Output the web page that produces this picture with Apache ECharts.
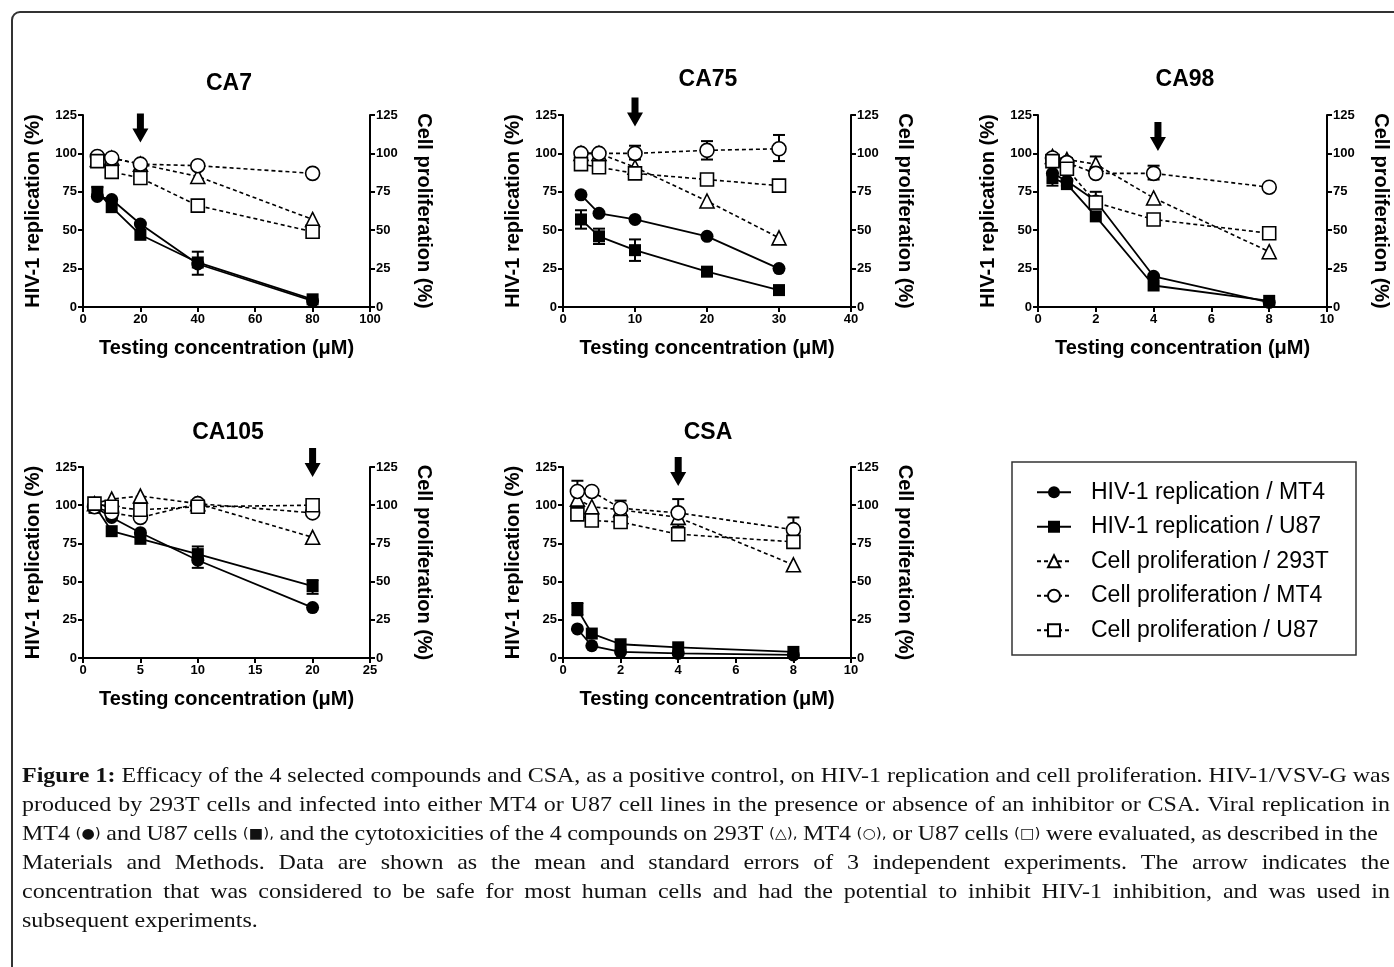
<!DOCTYPE html>
<html>
<head>
<meta charset="utf-8">
<title>Figure 1</title>
<script src="https://cdn.jsdelivr.net/npm/echarts@6/dist/echarts.min.js"></script>
<style>
  html, body { margin: 0; padding: 0; background: #fff; }
  #chart { width: 1394px; height: 967px; }
</style>
</head>
<body>
<div id="chart"></div>
<script>
// ---- data (% of control) ----
const concCA7 = [5, 10, 20, 40, 80]
const ca7Mt4 = [72, 70, 54, 28, 4]
const ca7U87 = [75, 65, 47, 29, 5]
const ca7Cp293 = [96, 97, 93, 85, 57]
const ca7CpMt4 = [98, 97, 93, 92, 87]
const ca7CpU87 = [95, 88, 84, 66, 49]
const ca7Err = [[5, 72, 78], [40, 21, 36]]

const concCA75 = [2.5, 5, 10, 20, 30]
const ca75Mt4 = [73, 61, 57, 46, 25]
const ca75U87 = [57, 46, 37, 23, 11]
const ca75Cp293 = [100, 100, 91, 69, 45]
const ca75CpMt4 = [100, 100, 100, 102, 103]
const ca75CpU87 = [93, 91, 87, 83, 79]
const ca75Err = [[2.5, 51, 63], [5, 41, 51], [10, 30, 44], [10, 96, 105], [20, 96, 108], [30, 95, 112]]

const concCA98 = [0.5, 1, 2, 4, 8]
const ca98Mt4 = [87, 82, 69, 20, 3]
const ca98U87 = [84, 80, 59, 14, 4]
const ca98Cp293 = [98, 96, 93, 71, 36]
const ca98CpMt4 = [97, 94, 87, 87, 78]
const ca98CpU87 = [95, 90, 68, 57, 48]
const ca98Err = [[0.5, 79, 92], [1, 79, 97], [2, 64, 75], [2, 91, 98], [4, 83, 92]]

const concCA105 = [1, 2.5, 5, 10, 20]
const ca105Mt4 = [99, 92, 82, 64, 33]
const ca105U87 = [100, 83, 78, 68, 47]
const ca105Cp293 = [101, 104, 106, 101, 79]
const ca105CpMt4 = [99, 95, 92, 101, 95]
const ca105CpU87 = [101, 99, 97, 99, 100]
const ca105Err = [[1, 95, 103], [10, 59, 73], [20, 42, 51]]

const concCSA = [0.5, 1, 2, 4, 8]
const csaMt4 = [19, 8, 4, 3, 2]
const csaU87 = [32, 16, 9, 7, 4]
const csaCp293 = [104, 99, 97, 92, 61]
const csaCpMt4 = [109, 109, 98, 95, 84]
const csaCpU87 = [94, 90, 89, 81, 76]
const csaErr = [[0.5, 28, 36], [0.5, 101, 116], [2, 93, 103], [4, 86, 104], [8, 77, 92], [8, 72, 79]]

// concentration picked as safe (arrow)
const arrowConc = [20, 10, 4.15, 20, 4]

const panelTitles = ['CA7', 'CA75', 'CA98', 'CA105', 'CSA']
const xMaxes = [100, 40, 10, 25, 10]
const xSteps = [20, 10, 2, 5, 2]

const seriesNames = [
  'HIV-1 replication / MT4',
  'HIV-1 replication / U87',
  'Cell proliferation / 293T',
  'Cell proliferation / MT4',
  'Cell proliferation / U87'
]

const captionLines = [
  'Figure 1: Efficacy of the 4 selected compounds and CSA, as a positive control, on HIV-1 replication and cell proliferation. HIV-1/VSV-G was',
  'produced by 293T cells and infected into either MT4 or U87 cell lines in the presence or absence of an inhibitor or CSA. Viral replication in',
  'MT4 (●) and U87 cells (■), and the cytotoxicities of the 4 compounds on 293T (△),  MT4 (○), or U87 cells (□) were evaluated, as described in the',
  'Materials and Methods. Data are shown as the mean and standard errors of 3 independent experiments. The arrow indicates the',
  'concentration that was considered to be safe for most human cells and had the potential to inhibit HIV-1 inhibition, and was used in',
  'subsequent experiments.'
]

// ---- layout ----
const panels = [
  { conc: concCA7, vals: [ca7Mt4, ca7U87, ca7Cp293, ca7CpMt4, ca7CpU87], err: ca7Err,
    grid: { left: 83, top: 115, width: 287, height: 192 }, titleXY: [229, 84], arrowY: 116.5 },
  { conc: concCA75, vals: [ca75Mt4, ca75U87, ca75Cp293, ca75CpMt4, ca75CpU87], err: ca75Err,
    grid: { left: 563, top: 115, width: 288, height: 192 }, titleXY: [708, 80], arrowY: 127 },
  { conc: concCA98, vals: [ca98Mt4, ca98U87, ca98Cp293, ca98CpMt4, ca98CpU87], err: ca98Err,
    grid: { left: 1038, top: 115, width: 289, height: 192 }, titleXY: [1185, 80], arrowY: 111 },
  { conc: concCA105, vals: [ca105Mt4, ca105U87, ca105Cp293, ca105CpMt4, ca105CpU87], err: ca105Err,
    grid: { left: 83, top: 467, width: 287, height: 191 }, titleXY: [228, 433], arrowY: 128 },
  { conc: concCSA, vals: [csaMt4, csaU87, csaCp293, csaCpMt4, csaCpU87], err: csaErr,
    grid: { left: 563, top: 467, width: 288, height: 191 }, titleXY: [708, 433], arrowY: 122 }
]

const SANS = '"Liberation Sans", Arial, sans-serif'
const SERIF = '"Liberation Serif", "Times New Roman", serif'

const seriesLook = [
  { symbol: 'circle', symbolSize: 13, fill: '#000', dashed: false },
  { symbol: 'rect', symbolSize: 12, fill: '#000', dashed: false },
  { symbol: 'triangle', symbolSize: 14, fill: '#fff', dashed: true },
  { symbol: 'circle', symbolSize: 14, fill: '#fff', dashed: true },
  { symbol: 'rect', symbolSize: 13, fill: '#fff', dashed: true }
]

const arrowPath = 'path://M4.5,0 L11.5,0 L11.5,15 L16,15 L8,29 L0,15 L4.5,15 Z'

function renderErr(params, api) {
  const x = api.value(0)
  const top = api.coord([x, api.value(2)])
  const bot = api.coord([x, api.value(1)])
  const w = 6
  const st = { stroke: '#000', lineWidth: 2 }
  return {
    type: 'group',
    children: [
      { type: 'line', shape: { x1: top[0], y1: top[1], x2: bot[0], y2: bot[1] }, style: st },
      { type: 'line', shape: { x1: top[0] - w, y1: top[1], x2: top[0] + w, y2: top[1] }, style: st },
      { type: 'line', shape: { x1: bot[0] - w, y1: bot[1], x2: bot[0] + w, y2: bot[1] }, style: st }
    ]
  }
}

const axisLineStyle = { show: true, lineStyle: { color: '#000', width: 2 } }
const tickStyle = { show: true, length: 5, lineStyle: { color: '#000', width: 2 } }
const labelStyle = { color: '#000', fontFamily: SANS, fontWeight: 'bold', fontSize: 13 }
const nameStyle = { color: '#000', fontFamily: SANS, fontWeight: 'bold', fontSize: 20 }

const grids = []
const xAxes = []
const yAxes = []
const series = []
const graphics = []

panels.forEach((p, i) => {
  grids.push(Object.assign({ containLabel: false }, p.grid))
  xAxes.push({
    type: 'value', gridIndex: i, min: 0, max: xMaxes[i], interval: xSteps[i],
    name: 'Testing concentration (μM)', nameLocation: 'middle', nameGap: 31,
    nameTextStyle: nameStyle,
    axisLine: Object.assign({ onZero: false }, axisLineStyle), axisTick: tickStyle,
    axisLabel: Object.assign({ margin: 6 }, labelStyle), splitLine: { show: false }
  })
  yAxes.push({
    type: 'value', gridIndex: i, position: 'left', min: 0, max: 125, interval: 25,
    name: 'HIV-1 replication (%)', nameLocation: 'middle', nameGap: 40, nameRotate: 90,
    nameTextStyle: nameStyle,
    axisLine: axisLineStyle, axisTick: tickStyle,
    axisLabel: Object.assign({ margin: 6 }, labelStyle), splitLine: { show: false }
  })
  yAxes.push({
    type: 'value', gridIndex: i, position: 'right', min: 0, max: 125, interval: 25,
    name: 'Cell proliferation (%)', nameLocation: 'middle', nameGap: 44, nameRotate: -90,
    nameTextStyle: nameStyle,
    axisLine: axisLineStyle, axisTick: tickStyle,
    axisLabel: Object.assign({ margin: 6 }, labelStyle), splitLine: { show: false }
  })

  series.push({
    type: 'custom', xAxisIndex: i, yAxisIndex: i * 2, z: 1,
    renderItem: renderErr, encode: { x: 0, y: [1, 2] }, data: p.err, silent: true
  })

  // arrow sits above the axis top for some panels: anchor at <=125 and shift in pixels
  const pxPerUnit = p.grid.height / 125
  const arrowAnchor = Math.min(p.arrowY, 125)
  const arrowShift = -(p.arrowY - arrowAnchor) * pxPerUnit

  p.vals.forEach((vals, k) => {
    const look = seriesLook[k]
    const s = {
      name: seriesNames[k], type: 'line', xAxisIndex: i,
      yAxisIndex: k < 2 ? i * 2 : i * 2 + 1, z: 3,
      symbol: look.symbol, symbolSize: look.symbolSize, showAllSymbol: true,
      itemStyle: { color: look.fill, borderColor: '#000', borderWidth: look.fill === '#fff' ? 1.6 : 0 },
      lineStyle: { color: '#000', width: look.dashed ? 1.6 : 1.8, type: look.dashed ? [4, 3] : 'solid' },
      emphasis: { disabled: true },
      data: p.conc.map((c, j) => [c, vals[j]])
    }
    if (k === 0) {
      s.markPoint = {
        symbol: arrowPath, symbolSize: [16, 29], symbolKeepAspect: false,
        symbolOffset: [0, arrowShift],
        itemStyle: { color: '#000', borderWidth: 0 }, label: { show: false },
        data: [{ coord: [arrowConc[i], arrowAnchor] }]
      }
    }
    series.push(s)
  })

  graphics.push({
    type: 'text', x: p.titleXY[0], y: p.titleXY[1], silent: true,
    style: { text: panelTitles[i], fill: '#000', fontFamily: SANS, fontWeight: 'bold', fontSize: 23, align: 'center', verticalAlign: 'middle' }
  })
})

// outer frame and legend box
graphics.push({ type: 'rect', shape: { x: 12, y: 12, width: 1420, height: 1000, r: 8 }, style: { fill: 'none', stroke: '#333', lineWidth: 2 }, silent: true })
graphics.push({ type: 'rect', shape: { x: 1012, y: 462, width: 344, height: 193 }, style: { fill: 'none', stroke: '#333', lineWidth: 1.5 }, silent: true })

// caption, justified line by line (right edge per line; null = natural spacing)
function captionGraphics() {
  const ctx = document.createElement('canvas').getContext('2d')
  const left = 22, sx = 1.09, fs = 22
  const rightEdge = [1390, 1390, 1378, 1390, 1390, null]
  const out = []
  captionLines.forEach((line, li) => {
    const words = line.split(' ').filter(w => w)
    const fonts = words.map((w, wi) => {
      if (li === 0 && wi < 2) return { fontFamily: SERIF, fontWeight: 'bold', fontSize: fs }
      if (/[●■△○□]/.test(w)) return { fontFamily: '"DejaVu Sans", sans-serif', fontWeight: 'normal', fontSize: 14 }
      return { fontFamily: SERIF, fontWeight: 'normal', fontSize: fs }
    })
    const widths = words.map((w, wi) => {
      const f = fonts[wi]
      ctx.font = f.fontWeight + ' ' + f.fontSize + 'px ' + f.fontFamily
      return ctx.measureText(w).width * sx
    })
    ctx.font = 'normal ' + fs + 'px ' + SERIF
    const space = ctx.measureText(' ').width * sx
    const total = widths.reduce((a, b) => a + b, 0)
    const gap = rightEdge[li] ? (rightEdge[li] - left - total) / (words.length - 1) : space
    let x = left
    const y = 776 + li * 29
    words.forEach((w, wi) => {
      out.push({
        type: 'text', x: x, y: y, scaleX: sx, silent: true,
        style: Object.assign({ text: w, fill: '#111', align: 'left', verticalAlign: 'middle' }, fonts[wi])
      })
      x += widths[wi] + gap
    })
  })
  return out
}

const chart = echarts.init(document.getElementById('chart'), null, { renderer: 'canvas' })
chart.setOption({
  backgroundColor: '#fff',
  animation: false,
  grid: grids,
  xAxis: xAxes,
  yAxis: yAxes,
  legend: {
    data: seriesNames, orient: 'vertical', left: 1036, top: 480,
    itemWidth: 34, itemHeight: 15, itemGap: 10, padding: 0, selectedMode: false,
    textStyle: { color: '#000', fontFamily: SANS, fontSize: 23, lineHeight: 24.5, padding: [0, 0, 0, 15] }
  },
  series: series,
  graphic: graphics.concat(captionGraphics())
})
</script>
</body>
</html>
